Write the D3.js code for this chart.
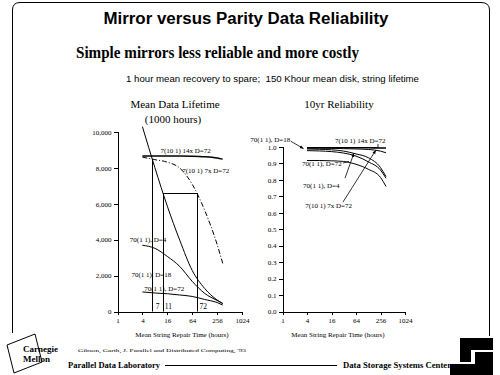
<!DOCTYPE html>
<html>
<head>
<meta charset="utf-8">
<script src="https://cdnjs.cloudflare.com/ajax/libs/d3/7.8.5/d3.min.js"></script>
<style>
    body { margin: 0; background: #fff; }
    svg { display: block; }
    .axis path, .axis line { stroke: #000; shape-rendering: crispEdges; }
    .axis text { font-family: "Liberation Serif", serif; font-size: 7px; fill: #000; }
    .serif { font-family: "Liberation Serif", serif; fill: #000; }
    .sans { font-family: "Liberation Sans", sans-serif; fill: #000; }
</style>
</head>
<body>
<svg width="500" height="375"></svg>
<script>
//	repair times (hours) where the curves are read
var hours = [4, 8, 16, 32, 64, 128, 256, 350];
//	mean data lifetime (1000 hours)
var lifeD4 = [10300, 8020, 5870, 3970, 2290, 1285, 640, 447];
var lifeD18 = [3690, 3520, 3070, 2510, 1680, 1010, 615, 450];
var lifeD72 = [1090, 1030, 990, 920, 840, 670, 500, 360];
var life14x = [8660, 8660, 8660, 8660, 8650, 8620, 8550, 8490];
var life7x = [8600, 8460, 8320, 7990, 7090, 5640, 3740, 2680];
//	10 year reliability
var relD4 = [0.988, 0.986, 0.983, 0.975, 0.958, 0.935, 0.875, 0.82];
var relD18 = [0.978, 0.976, 0.972, 0.963, 0.945, 0.91, 0.86, 0.81];
var relD72 = [0.918, 0.918, 0.916, 0.912, 0.895, 0.865, 0.815, 0.76];
var rel14x = [0.995, 0.995, 0.995, 0.995, 0.995, 0.995, 0.994, 0.994];
var rel7x = [0.993, 0.993, 0.992, 0.99, 0.988, 0.985, 0.975, 0.965];
//	crossover marks on the lifetime plot
var crossHours = [7, 12.5, 84];
var crossTops = [8450, 6600, 6600];
var crossLabels = ["7", "11", "72"];
//	ticks
var xTicks = [1, 4, 16, 64, 256, 1024];
var lifeTicks = [0, 2000, 4000, 6000, 8000, 10000];
var relTicks = [0, 0.1, 0.2, 0.3, 0.4, 0.5, 0.6, 0.7, 0.8, 0.9, 1.0];

var svg = d3.select("svg");

//	scales
var xL = d3.scaleLog().base(2).domain([1, 1024]).range([117.5, 242]),
        yL = d3.scaleLinear().domain([0, 10000]).range([311.5, 132]),
        xR = d3.scaleLog().base(2).domain([1, 1024]).range([282.5, 405]),
        yR = d3.scaleLinear().domain([0, 1]).range([311.5, 147]);

function pts(vals) {
    return hours.map(function (h, i) {
        return [h, vals[i]];
    });
}

//	frame
svg.append("path")
        .attr("d", "M12.5,333 V10 Q12.5,2.5 20,2.5 H481 Q489.5,2.5 489.5,10 V336")
        .attr("fill", "none").attr("stroke", "#000");

//	titles
svg.append("text").attr("class", "sans").attr("x", 246).attr("y", 24)
        .attr("text-anchor", "middle").attr("font-size", 16).attr("font-weight", "bold")
        .attr("textLength", 285).attr("lengthAdjust", "spacingAndGlyphs")
        .text("Mirror versus Parity Data Reliability");
svg.append("text").attr("class", "serif").attr("x", 217.5).attr("y", 58)
        .attr("text-anchor", "middle").attr("font-size", 17).attr("font-weight", "bold")
        .attr("textLength", 283).attr("lengthAdjust", "spacingAndGlyphs")
        .text("Simple mirrors less reliable and more costly");
svg.append("text").attr("class", "sans").attr("x", 272.5).attr("y", 82)
        .attr("text-anchor", "middle").attr("font-size", 9)
        .attr("textLength", 293).attr("lengthAdjust", "spacingAndGlyphs")
        .attr("xml:space", "preserve")
        .text("1 hour mean recovery to spare;  150 Khour mean disk, string lifetime");

svg.append("text").attr("class", "serif").attr("x", 175).attr("y", 108)
        .attr("text-anchor", "middle").attr("font-size", 11)
        .text("Mean Data Lifetime");
svg.append("text").attr("class", "serif").attr("x", 173).attr("y", 123)
        .attr("text-anchor", "middle").attr("font-size", 11)
        .text("(1000 hours)");
svg.append("text").attr("class", "serif").attr("x", 339).attr("y", 108)
        .attr("text-anchor", "middle").attr("font-size", 11)
        .text("10yr Reliability");

//	axes
var gL = svg.append("g");
gL.append("g").attr("class", "axis").attr("transform", "translate(" + xL(1) + ",0)")
        .call(d3.axisLeft(yL).tickValues(lifeTicks).tickFormat(d3.format(",")).tickSize(4).tickPadding(2));
gL.append("g").attr("class", "axis").attr("transform", "translate(0," + yL(0) + ")")
        .call(d3.axisBottom(xL).tickValues(xTicks).tickFormat(d3.format("d")).tickSize(3).tickPadding(4));

var gR = svg.append("g");
gR.append("g").attr("class", "axis").attr("transform", "translate(" + xR(1) + ",0)")
        .call(d3.axisLeft(yR).tickValues(relTicks).tickFormat(d3.format(".1f")).tickSize(4).tickPadding(2));
gR.append("g").attr("class", "axis").attr("transform", "translate(0," + yR(0) + ")")
        .call(d3.axisBottom(xR).tickValues(xTicks).tickFormat(d3.format("d")).tickSize(3).tickPadding(4));

svg.append("text").attr("class", "serif").attr("x", 182).attr("y", 337)
        .attr("text-anchor", "middle").attr("font-size", 7)
        .text("Mean String Repair Time (hours)");
svg.append("text").attr("class", "serif").attr("x", 338).attr("y", 337)
        .attr("text-anchor", "middle").attr("font-size", 7)
        .text("Mean String Repair Time (hours)");

//	lifetime curves
var lineL = d3.line().curve(d3.curveMonotoneX)
        .x(function (d) { return xL(d[0]); })
        .y(function (d) { return yL(d[1]); });
var seriesL = [
    {v: lifeD4, w: 1, dash: null},
    {v: lifeD18, w: 1, dash: null},
    {v: lifeD72, w: 1, dash: null},
    {v: life14x, w: 1.4, dash: null},
    {v: life7x, w: 1, dash: "5,2,1,2"}
];
gL.selectAll(".curve").data(seriesL).enter().append("path")
        .attr("class", "curve")
        .attr("d", function (d) { return lineL(pts(d.v)); })
        .attr("fill", "none").attr("stroke", "#000")
        .attr("stroke-width", function (d) { return d.w; })
        .attr("stroke-dasharray", function (d) { return d.dash; });

//	crossover lines and box
gL.selectAll(".cross").data(crossHours).enter().append("line")
        .attr("class", "cross")
        .attr("x1", function (d) { return Math.round(xL(d)) + 0.5; })
        .attr("x2", function (d) { return Math.round(xL(d)) + 0.5; })
        .attr("y1", yL(0))
        .attr("y2", function (d, i) { return yL(crossTops[i]); })
        .attr("stroke", "#000");
gL.append("line")
        .attr("x1", Math.round(xL(crossHours[1])) + 0.5).attr("x2", Math.round(xL(crossHours[2])) + 0.5)
        .attr("y1", Math.round(yL(crossTops[1])) + 0.5).attr("y2", Math.round(yL(crossTops[1])) + 0.5)
        .attr("stroke", "#000");
var crossLabelPos = [[9.3, 150], [17, 150], [118, 150]];
gL.selectAll(".clab").data(crossLabels).enter().append("text")
        .attr("class", "serif").attr("font-size", 7.5).attr("text-anchor", "middle")
        .attr("x", function (d, i) { return xL(crossLabelPos[i][0]); })
        .attr("y", function (d, i) { return yL(crossLabelPos[i][1]); })
        .text(function (d) { return d; });

//	lifetime labels: [text, hours, value, anchor]
var labelsL = [
    ["7(10 1) 14x D=72", 10.9, 8830, "start"],
    ["7(10 1) 7x D=72", 36.8, 7710, "start"],
    ["70(1 1), D=4", 15.1, 3855, "end"],
    ["70(1 1), D=18", 20, 1900, "end"],
    ["70(1 1), D=72", 41, 1117, "end"]
];
gL.selectAll(".llab").data(labelsL).enter().append("text")
        .attr("class", "serif").attr("font-size", 7)
        .attr("x", function (d) { return xL(d[1]); })
        .attr("y", function (d) { return yL(d[2]); })
        .attr("text-anchor", function (d) { return d[3]; })
        .text(function (d) { return d[0]; });

//	reliability curves
var lineR = d3.line().curve(d3.curveMonotoneX)
        .x(function (d) { return xR(d[0]); })
        .y(function (d) { return yR(d[1]); });
var seriesR = [
    {v: relD4, w: 1},
    {v: relD18, w: 1},
    {v: relD72, w: 1},
    {v: rel14x, w: 1.6},
    {v: rel7x, w: 1}
];
gR.selectAll(".curve").data(seriesR).enter().append("path")
        .attr("class", "curve")
        .attr("d", function (d) { return lineR(pts(d.v)); })
        .attr("fill", "none").attr("stroke", "#000")
        .attr("stroke-width", function (d) { return d.w; });

//	arrow head
svg.append("defs").append("marker")
        .attr("id", "arr").attr("viewBox", "0 0 10 10").attr("refX", 10).attr("refY", 5)
        .attr("markerWidth", 5).attr("markerHeight", 5).attr("orient", "auto")
        .append("path").attr("d", "M0,1 L10,5 L0,9 Z").attr("fill", "#000");

//	reliability labels: [text, hours, value, anchor, leader from, leader to]
var labelsR = [
    ["70(1 1), D=18", 1.55, 1.03, "end", [1.6, 1.035], [3.3, 0.99]],
    ["7(10 1) 14x D=72", 19.5, 1.024, "start", [222, 1.018], [222, 0.995]],
    ["70(1 1), D=72", 3.0, 0.884, "start", [30.6, 0.902], [43, 0.913]],
    ["70(1 1), D=4", 3.2, 0.75, "start", [34.4, 0.811], [57, 0.963]],
    ["7(10 1) 7x D=72", 3.6, 0.628, "start", [30.6, 0.665], [198, 0.982]]
];
gR.selectAll(".rlab").data(labelsR).enter().append("text")
        .attr("class", "serif").attr("font-size", 7)
        .attr("x", function (d) { return xR(d[1]); })
        .attr("y", function (d) { return yR(d[2]); })
        .attr("text-anchor", function (d) { return d[3]; })
        .text(function (d) { return d[0]; });
gR.selectAll(".lead").data(labelsR).enter().append("line")
        .attr("x1", function (d) { return xR(d[4][0]); })
        .attr("y1", function (d) { return yR(d[4][1]); })
        .attr("x2", function (d) { return xR(d[5][0]); })
        .attr("y2", function (d) { return yR(d[5][1]); })
        .attr("stroke", "#000").attr("stroke-width", 0.8)
        .attr("marker-end", function (d, i) { return i === 1 || i === 2 ? null : "url(#arr)"; });

//	footer
svg.append("text").attr("class", "serif").attr("x", 78).attr("y", 352)
        .attr("font-size", 5).attr("textLength", 168).attr("lengthAdjust", "spacingAndGlyphs")
        .text("Gibson, Garth, J. Parallel and Distributed Computing, '93");
svg.append("text").attr("class", "serif").attr("x", 68).attr("y", 368)
        .attr("font-size", 8.5).attr("font-weight", "bold")
        .text("Parallel Data Laboratory");
svg.append("line").attr("x1", 165).attr("x2", 337).attr("y1", 365.5).attr("y2", 365.5)
        .attr("stroke", "#000");
svg.append("text").attr("class", "serif").attr("x", 451).attr("y", 368)
        .attr("font-size", 8.5).attr("font-weight", "bold").attr("text-anchor", "end")
        .attr("textLength", 108).attr("lengthAdjust", "spacingAndGlyphs")
        .text("Data Storage Systems Center");

//	CMU logo
svg.append("path").attr("d", "M7,345 L35,334 L42,362 L14,373 Z")
        .attr("fill", "none").attr("stroke", "#000");
svg.append("text").attr("class", "serif").attr("x", 23).attr("y", 352)
        .attr("font-size", 9).attr("font-weight", "bold").text("Carnegie");
svg.append("text").attr("class", "serif").attr("x", 23).attr("y", 362)
        .attr("font-size", 9).attr("font-weight", "bold").text("Mellon");

//	DSSC logo
svg.append("path").attr("d", "M460,338 H493 V350 H471 V362 H460 Z").attr("fill", "#000");
svg.append("path").attr("d", "M475,352 H493 V375 H450 V364 H475 Z").attr("fill", "#000");
</script>
</body>
</html>
